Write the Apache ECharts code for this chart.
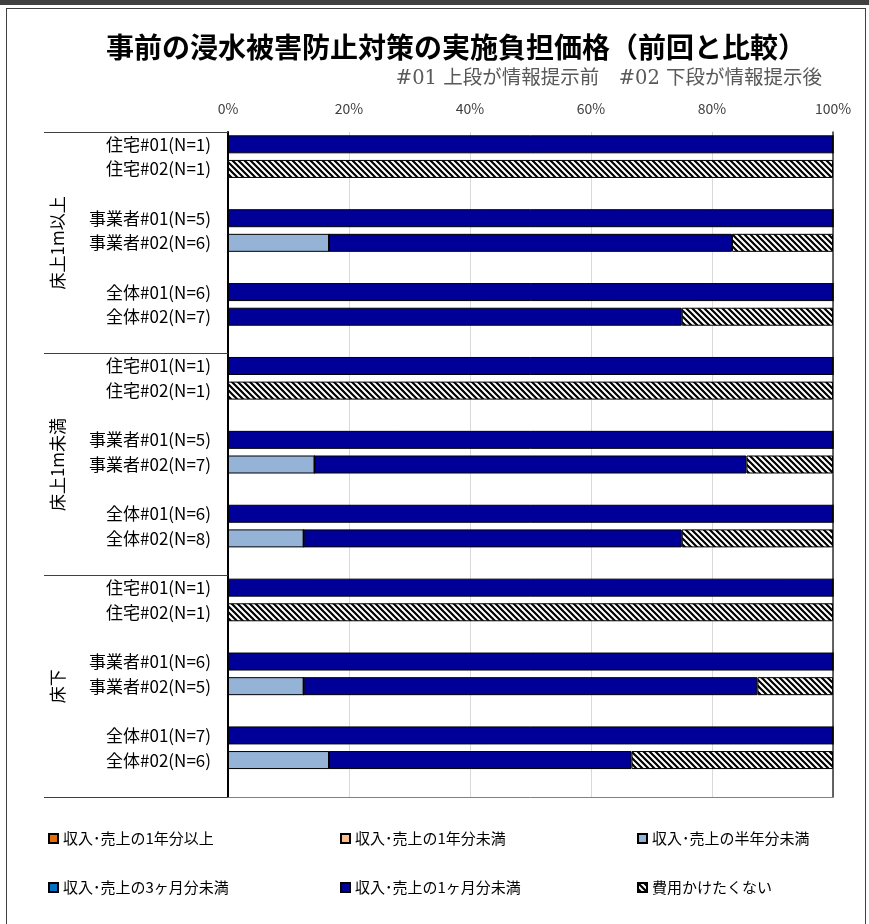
<!DOCTYPE html>
<html>
<head>
<meta charset="utf-8">
<script src="https://cdn.jsdelivr.net/npm/echarts@6/dist/echarts.min.js"></script>
<style>
html,body{margin:0;padding:0;background:#fff;width:869px;height:924px;overflow:hidden;}
#band{position:absolute;left:0;top:0;width:869px;height:5px;background:#404040;}
#frame{position:absolute;left:6px;top:8px;width:860px;height:930px;border:1px solid #404040;box-sizing:border-box;}
#chart{position:absolute;left:0;top:0;width:869px;height:924px;}
</style>
</head>
<body>
<div id="band"></div>
<div id="frame"></div>
<div id="chart"></div>
<script>
// ---- data ----
const titleText = '事前の浸水被害防止対策の実施負担価格（前回と比較）';
const subtitleText = '#01 上段が情報提示前　#02 下段が情報提示後';
const groups = ['床上1m以上', '床上1m未満', '床下'];
const categories = [
  '住宅#01(N=1)', '住宅#02(N=1)', '_b1', '事業者#01(N=5)', '事業者#02(N=6)', '_b2', '全体#01(N=6)', '全体#02(N=7)', '_b3',
  '住宅#01(N=1)_', '住宅#02(N=1)_', '_b4', '事業者#01(N=5)_', '事業者#02(N=7)', '_b5', '全体#01(N=6)_', '全体#02(N=8)', '_b6',
  '住宅#01(N=1)__', '住宅#02(N=1)__', '_b7', '事業者#01(N=6)', '事業者#02(N=5)', '_b8', '全体#01(N=7)', '全体#02(N=6)', '_b9'
];
const xTicks = [0, 20, 40, 60, 80, 100];
const seriesNames = ['収入･売上の1年分以上', '収入･売上の1年分未満', '収入･売上の半年分未満', '収入･売上の3ヶ月分未満', '収入･売上の1ヶ月分未満', '費用かけたくない'];
const over1Year  = [0,0,null,0,0,null,0,0,null, 0,0,null,0,0,null,0,0,null, 0,0,null,0,0,null,0,0,null];
const under1Year = [0,0,null,0,0,null,0,0,null, 0,0,null,0,0,null,0,0,null, 0,0,null,0,0,null,0,0,null];
const underHalf  = [0,0,null,0,16.7,null,0,0,null, 0,0,null,0,14.3,null,0,12.5,null, 0,0,null,0,12.5,null,0,16.7,null];
const under3Mon  = [0,0,null,0,0,null,0,0,null, 0,0,null,0,0,null,0,0,null, 0,0,null,0,0,null,0,0,null];
const under1Mon  = [100,0,null,100,66.6,null,100,75,null, 100,0,null,100,71.4,null,100,62.5,null, 100,0,null,100,75,null,100,50,null];
const noCost     = [0,100,null,0,16.7,null,0,25,null, 0,100,null,0,14.3,null,0,25,null, 0,100,null,0,12.5,null,0,33.3,null];

// ---- styles ----
const FONT = '"Noto Sans CJK JP", "Noto Sans", sans-serif';
const colors = ['#E46C0A', '#FABF8F', '#95B3D7', '#0070C0', '#000099'];

function hatch() {
  const c = document.createElement('canvas');
  const s = 6;
  c.width = s; c.height = s;
  const g = c.getContext('2d');
  g.fillStyle = '#fff';
  g.fillRect(0, 0, s, s);
  g.strokeStyle = '#000';
  g.lineWidth = 2.2;
  g.beginPath();
  for (let k = -1; k <= 1; k++) {
    g.moveTo(k * s - 1, -1);
    g.lineTo(k * s + s + 1, s + 1);
  }
  g.stroke();
  return c;
}
const hatchFill = { image: hatch(), repeat: 'repeat' };

const dataSets = [over1Year, under1Year, underHalf, under3Mon, under1Mon, noCost];
const series = seriesNames.map((name, i) => ({
  name: name,
  type: 'bar',
  stack: 'total',
  barWidth: 18,
  xAxisIndex: 0,
  yAxisIndex: 0,
  data: dataSets[i],
  itemStyle: {
    color: i < 5 ? colors[i] : hatchFill,
    borderColor: '#000',
    borderWidth: 1
  },
  emphasis: { disabled: true },
  animation: false
}));

const legendText = { fontFamily: FONT, fontSize: 15, color: '#000' };
const legendBase = {
  orient: 'vertical', top: 831, itemWidth: 9, itemHeight: 9, itemGap: 34,
  icon: 'rect', textStyle: legendText, selectedMode: false, padding: 0, itemTextGap: 3
};

const chart = echarts.init(document.getElementById('chart'), null, { renderer: 'canvas' });
chart.setOption({
  backgroundColor: 'transparent',
  animation: false,
  title: [
    { text: titleText, left: 101, top: 28,
      textStyle: { fontFamily: FONT, fontSize: 28, fontWeight: 'bold', color: '#000' } },
    { text: subtitleText, right: 42, top: 64,
      textStyle: { fontFamily: '"DejaVu Serif", "Noto Sans CJK JP", serif', fontSize: 19.5, fontWeight: 'normal', color: '#595959' } }
  ],
  legend: [
    Object.assign({}, legendBase, { left: 48, data: [seriesNames[0], seriesNames[3]] }),
    Object.assign({}, legendBase, { left: 340, data: [seriesNames[1], seriesNames[4]] }),
    Object.assign({}, legendBase, { left: 637, data: [seriesNames[2], seriesNames[5]] })
  ],
  grid: { left: 228, right: 36, top: 132, bottom: 127, containLabel: false },
  xAxis: [
    {
      type: 'value', position: 'top', min: xTicks[0], max: xTicks[xTicks.length - 1], interval: 20,
      axisLine: { show: false }, axisTick: { show: false },
      axisLabel: { formatter: '{value}%', fontFamily: FONT, fontSize: 14, color: '#404040', margin: 16 },
      splitLine: { show: true, lineStyle: { color: '#D9D9D9', width: 1 } }
    },
    {
      type: 'value', position: 'bottom', min: 0, max: 100,
      axisLine: { show: true, lineStyle: { color: '#808080', width: 1 } },
      axisTick: { show: false }, axisLabel: { show: false }, splitLine: { show: false }
    }
  ],
  yAxis: [
    {
      type: 'category', inverse: true, data: categories, position: 'left',
      axisLine: { show: true, lineStyle: { color: '#000', width: 2 } },
      axisTick: { show: false },
      axisLabel: {
        interval: 0, margin: 17, fontFamily: FONT, fontSize: 17, color: '#000',
        formatter: v => v.startsWith('_') ? '' : v.replace(/_+$/, '')
      }
    },
    {
      type: 'category', inverse: true, data: groups, position: 'left',
      axisLine: { show: false },
      axisTick: { show: true, length: 184, lineStyle: { color: '#404040', width: 1 } },
      axisLabel: { interval: 0, rotate: 90, margin: 162, fontFamily: FONT, fontSize: 17, color: '#000' }
    },
    {
      type: 'category', inverse: true, data: groups, position: 'right',
      axisLine: { show: true, lineStyle: { color: '#333', width: 1.5 } },
      axisTick: { show: false }, axisLabel: { show: false }
    }
  ],
  series: series
});
</script>
</body>
</html>
